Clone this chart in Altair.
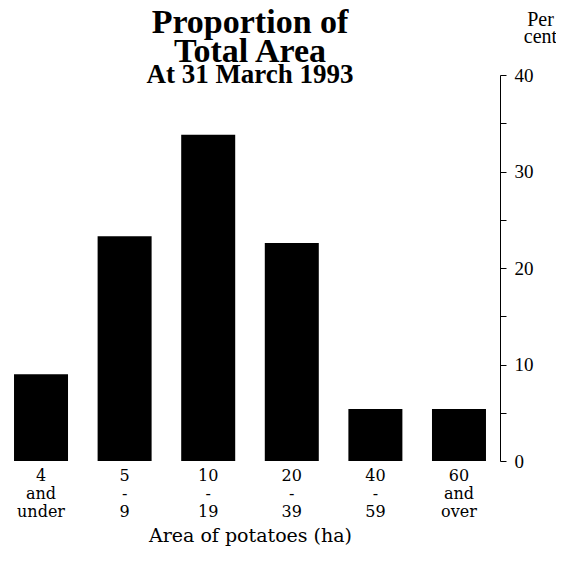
import altair as alt
import pandas as pd

categories = ["4|and|under", "5|-|9", "10|-|19", "20|-|39", "40|-|59", "60|and|over"]
values = [9.0, 23.3, 33.8, 22.6, 5.4, 5.4]
y_ticks = [0, 5, 10, 15, 20, 25, 30, 35, 40]

df = pd.DataFrame({"cat": categories, "pct": values})

SERIF = "Liberation Serif"
WIDE = "DejaVu Serif"

chart = alt.Chart(df).mark_bar(color="black").encode(
    x=alt.X("cat:N", sort=categories,
            scale=alt.Scale(paddingInner=0.354, paddingOuter=0.072),
            axis=alt.Axis(title="Area of potatoes (ha)", labelAngle=0,
                          labelExpr="split(datum.value, '|')",
                          domain=False, ticks=False, labelPadding=6,
                          labelFontSize=16, labelLineHeight=18,
                          titleFontSize=19, titleFontWeight="normal",
                          titlePadding=7, labelFont=WIDE, titleFont=WIDE,
                          labelColor="black", titleColor="black")),
    y=alt.Y("pct:Q", scale=alt.Scale(domain=[0, 40], nice=False),
            axis=alt.Axis(orient="right", values=y_ticks, offset=8,
                          labelExpr="datum.value % 10 == 0 ? datum.label : ''",
                          title=["Per", "cent"], titleAngle=0,
                          titleAlign="center", titleBaseline="bottom",
                          titleX=40, titleY=-46, titleFontSize=20,
                          titleFontWeight="normal", titleLineHeight=17,
                          grid=False, domainColor="black", tickColor="black",
                          tickSize=6, labelFontSize=19, labelPadding=8,
                          labelFont=SERIF, titleFont=SERIF,
                          labelColor="black", titleColor="black")),
).properties(
    width=484,
    height=386,
    title=alt.Title(text=["Proportion of", "Total Area"],
                    subtitle="At 31 March 1993",
                    font=SERIF, fontSize=34, fontWeight="bold", lineHeight=29,
                    subtitleFont=SERIF, subtitleFontSize=27,
                    subtitleFontWeight="bold", subtitleColor="black",
                    subtitlePadding=-7, color="black", frame="group",
                    anchor="middle", offset=-79),
    autosize=alt.AutoSizeParams(type="none"),
    padding={"left": 0, "top": 67, "right": 64, "bottom": 90},
).configure_view(stroke=None)

chart.save("out.html", embed_options={"renderer": "svg", "actions": False})
